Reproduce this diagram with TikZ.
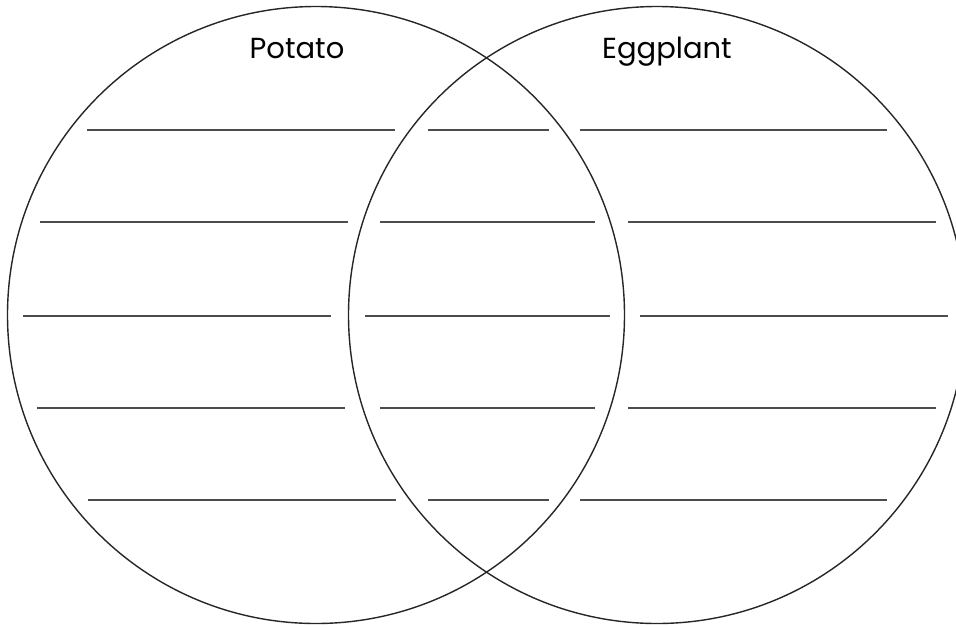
\documentclass[tikz,border=0pt]{standalone}
\usepackage{fontspec}
\setmainfont{Poppins}
\usetikzlibrary{positioning}
\tikzset{
  ring/.style={draw=black!85, line width=1.4pt, circle, inner sep=0pt, minimum size=617pt},
  writeline/.style={draw=black!70, line width=1.8pt},
  title/.style={font=\fontsize{29}{32}\selectfont, text=black, anchor=base}
}

\begin{document}
\begin{tikzpicture}[x=1pt,y=-1pt]
\useasboundingbox (0,0) rectangle (956,625);
\clip (0,0) rectangle (956,625);
\node[ring] (potato) at (316,315) {};
\node[ring] (eggplant) at (657,315) {};
\node[title] (potatolbl) at (297,58) {Potato};
\node[title] (eggplantlbl) at (667,58) {Eggplant};
% answer lines: left / middle / right
\foreach \y/\la/\lb/\ma/\mb/\ra/\rb in {
    130/87/395/428/549/580/887,
    222/40/348/380/595/628/936,
    316/23/331/365/610/640/948,
    408/37/345/380/595/628/936,
    500/88/396/428/549/580/887}{
  \draw[writeline] (\la,\y) -- (\lb,\y);
  \draw[writeline] (\ma,\y) -- (\mb,\y);
  \draw[writeline] (\ra,\y) -- (\rb,\y);
}
\end{tikzpicture}
\end{document}
